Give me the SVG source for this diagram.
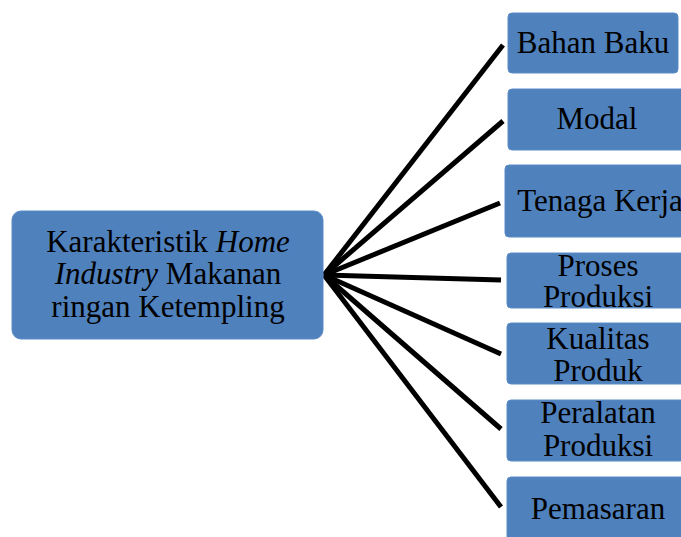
<svg xmlns="http://www.w3.org/2000/svg" width="681" height="537" viewBox="0 0 681 537">
<style>
.box{fill:#4F81BD;stroke:#5B8CC6;stroke-width:1}
.t{font-family:"Liberation Serif","Times New Roman",serif;font-size:31px;fill:#000;text-anchor:middle}
.c{stroke:#000;stroke-width:5;fill:none;stroke-linecap:butt}
</style>
<rect width="681" height="537" fill="#fff"/>
<g id="connectors">
<line class="c" x1="324" y1="275" x2="503" y2="45"/>
<line class="c" x1="324" y1="275" x2="503" y2="121"/>
<line class="c" x1="324" y1="275" x2="500" y2="203"/>
<line class="c" x1="324" y1="275" x2="501" y2="280"/>
<line class="c" x1="324" y1="275" x2="501" y2="354"/>
<line class="c" x1="324" y1="275" x2="501" y2="429"/>
<line class="c" x1="324" y1="275" x2="501" y2="507"/>
</g>
<g id="main">
<rect class="box" x="12" y="211" width="311" height="128" rx="9"/>
<text class="t" x="168" y="252">Karakteristik <tspan font-style="italic">Home</tspan></text>
<text class="t" x="168" y="284"><tspan font-style="italic">Industry</tspan> Makanan</text>
<text class="t" x="168" y="317">ringan Ketempling</text>
</g>
<g id="bahan-baku">
<rect class="box" x="508" y="13" width="170" height="60" rx="4"/>
<text class="t" x="593" y="53">Bahan Baku</text>
</g>
<g id="modal">
<rect class="box" x="508" y="89" width="180" height="61" rx="4"/>
<text class="t" x="597" y="129">Modal</text>
</g>
<g id="tenaga-kerja">
<rect class="box" x="505" y="165" width="190" height="72" rx="4"/>
<text class="t" x="600" y="211">Tenaga Kerja</text>
</g>
<g id="proses-produksi">
<rect class="box" x="507" y="253" width="182" height="55" rx="4"/>
<text class="t" x="598" y="276">Proses</text>
<text class="t" x="598" y="307">Produksi</text>
</g>
<g id="kualitas-produk">
<rect class="box" x="507" y="323" width="182" height="61" rx="4"/>
<text class="t" x="598" y="349">Kualitas</text>
<text class="t" x="598" y="381">Produk</text>
</g>
<g id="peralatan-produksi">
<rect class="box" x="507" y="400" width="182" height="61" rx="4"/>
<text class="t" x="598" y="423">Peralatan</text>
<text class="t" x="598" y="456">Produksi</text>
</g>
<g id="pemasaran">
<rect class="box" x="507" y="477" width="182" height="72" rx="4"/>
<text class="t" x="598" y="519">Pemasaran</text>
</g>
</svg>
